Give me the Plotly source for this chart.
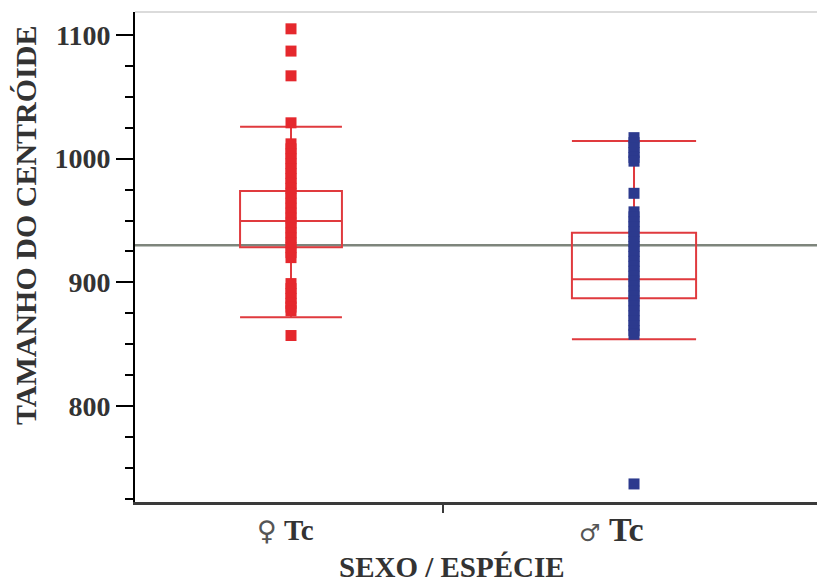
import plotly.graph_objects as go

# ---------------- data ----------------
categories = [0, 1]
category_symbols = ["♀", "♂"]
category_names = ["Tc", "Tc"]

y_tick_values = [800, 900, 1000, 1100]
y_title = "TAMANHO DO CENTRÓIDE"
x_title = "SEXO / ESPÉCIE"

# box statistics (female, male)
q1_vals = [928.4, 887.1]
median_vals = [949.6, 902.5]
q3_vals = [973.9, 940.2]
lower_whisker = [871.8, 854.0]
upper_whisker = [1025.9, 1014.3]

reference_value = 930

female_points = [1105, 1087, 1067, 1029,
                 1012, 1008, 1004, 1000, 996, 992, 988, 984, 980, 976, 972, 968,
                 964, 960, 956, 952, 948, 944, 940, 936, 932, 928, 924, 920,
                 899, 895, 891, 887, 883, 880, 877,
                 857]
male_points = [1017, 1013, 1009, 1005, 1001, 998,
               972,
               957, 953, 949, 945, 941, 937, 933, 929, 925, 921, 917, 913, 909,
               905, 901, 897, 893, 889, 885, 881, 877, 873, 869, 865, 861, 858,
               737]

# ---------------- styles ----------------
BOX_RED = "#e03a3e"
PT_RED = "#e5282d"
PT_BLUE = "#2c3a8e"
TXT = "#333333"
SERIF = "Liberation Serif"
box_widths = [0.297, 0.362]
point_colors = [PT_RED, PT_BLUE]
label_shift = [-6, -23]
label_sizes = [29, 34]
symbol_sizes = [27, 24]

fig = go.Figure()

for i, cat in enumerate(categories):
    fig.add_trace(go.Box(
        x=[cat], q1=[q1_vals[i]], median=[median_vals[i]], q3=[q3_vals[i]],
        lowerfence=[lower_whisker[i]], upperfence=[upper_whisker[i]],
        width=box_widths[i], whiskerwidth=1, boxpoints=False,
        line=dict(color=BOX_RED, width=2), fillcolor="rgba(0,0,0,0)",
        hoverinfo="skip",
    ))

for cat, pts, col in zip(categories, [female_points, male_points], point_colors):
    fig.add_trace(go.Scatter(
        x=[cat] * len(pts), y=pts, mode="markers",
        marker=dict(symbol="square", size=11, color=col, line=dict(width=0)),
        hoverinfo="skip",
    ))

# reference line
fig.add_shape(type="line", xref="paper", x0=0, x1=1, yref="y",
              y0=reference_value, y1=reference_value,
              line=dict(color="#7e857c", width=2.5), layer="below")
# light top border
fig.add_shape(type="line", xref="paper", x0=0, x1=1, yref="paper", y0=1, y1=1,
              line=dict(color="#cfcfcf", width=1.5))

# category labels
for i, cat in enumerate(categories):
    fig.add_annotation(
        x=cat, xref="x", y=-0.057, yref="paper", xanchor="center", yanchor="middle",
        xshift=label_shift[i], showarrow=False,
        text=(f'<span style="font-family:DejaVu Sans;font-size:{symbol_sizes[i]}px;'
              f'color:#555555">{category_symbols[i]}</span> '
              f'<b>{category_names[i]}</b>'),
        font=dict(family=SERIF, size=label_sizes[i], color=TXT),
    )

# axis titles
fig.add_annotation(x=0.4648, xref="paper", y=-0.1327, yref="paper",
                   xanchor="center", yanchor="middle", showarrow=False,
                   text=x_title,
                   font=dict(family=SERIF, size=29, color=TXT, weight="bold"))
fig.add_annotation(x=-0.1613, xref="paper", y=0.5653, yref="paper",
                   xanchor="center", yanchor="middle", showarrow=False,
                   textangle=-90, text=y_title,
                   font=dict(family=SERIF, size=30, color=TXT, weight="bold"))

fig.update_layout(
    width=817, height=583,
    margin=dict(l=135, r=0, t=12, b=81),
    paper_bgcolor="white", plot_bgcolor="white",
    showlegend=False,
)
fig.update_xaxes(
    range=[-0.4548, 1.5335], showgrid=False, zeroline=False,
    showline=True, linecolor="#3a3a3a", linewidth=3,
    tickvals=[0.443], ticktext=[""], ticks="outside", ticklen=8,
    tickwidth=2, tickcolor="#3a3a3a", showticklabels=False,
)
fig.update_yaxes(
    range=[722.4, 1118.6], showgrid=False, zeroline=False,
    showline=True, linecolor="black", linewidth=2,
    tickvals=y_tick_values, ticks="outside", ticklen=17, tickwidth=2,
    tickcolor="black",
    tickfont=dict(family=SERIF, size=28, color=TXT, weight="bold"),
    minor=dict(dtick=25, tick0=0, ticks="outside", ticklen=8, tickwidth=2,
               tickcolor="black", showgrid=False),
)

fig.write_html("out.html")
